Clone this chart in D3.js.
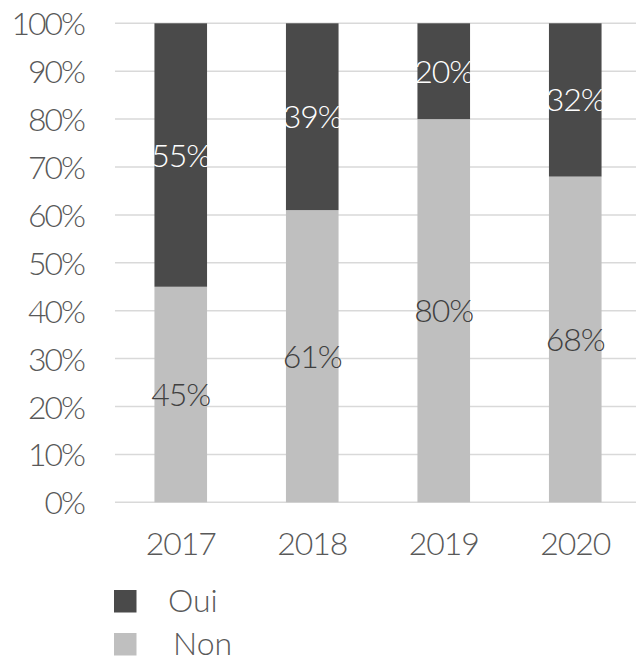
<!DOCTYPE html>
<html>
<head>
<meta charset="utf-8">
<script src="https://cdn.jsdelivr.net/npm/d3@7"></script>
<style>
body { margin: 0; background: #fff; }
text { font-family: Lato, "Open Sans", sans-serif; font-weight: 300; }
</style>
</head>
<body>
<div id="chart"></div>
<script>
var years = ["2017", "2018", "2019", "2020"];
var oui = [55, 39, 20, 32];
var non = [45, 61, 80, 68];
var yTicks = [0, 10, 20, 30, 40, 50, 60, 70, 80, 90, 100];
var seriesNames = ["Oui", "Non"];

var W = 636, H = 661;
var colorOui = "#4a4a4a", colorNon = "#bfbfbf";

var svg = d3.select("#chart").append("svg")
	.attr("width", W)
	.attr("height", H);

var x = d3.scaleBand()
	.domain(years)
	.range([115, 641])
	.paddingInner(0.6)
	.paddingOuter(0.3);

var y = d3.scaleLinear()
	.domain([0, 100])
	.range([502.3, 23.3]);

// grid lines
svg.append("g")
	.selectAll("line")
	.data(yTicks)
	.enter()
	.append("line")
	.attr("x1", 115)
	.attr("x2", W)
	.attr("y1", function(d) { return y(d); })
	.attr("y2", function(d) { return y(d); })
	.attr("stroke", "#d9d9d9")
	.attr("stroke-width", 1.5);

// y axis labels
var yaxis = d3.axisLeft(y).tickValues(yTicks).tickSize(0).tickPadding(0)
	.tickFormat(function(d) { return d + "%"; });
var gy = svg.append("g").attr("transform", "translate(84,0)").call(yaxis);
gy.select(".domain").remove();
gy.selectAll("text")
	.attr("fill", "#595959")
	.style("font-size", "32px")
	.style("font-family", "Lato, sans-serif")
	.style("letter-spacing", "-2px")
	.attr("dy", "0.36em");

// stacked data
var rows = years.map(function(yr, i) { return {year: yr, Non: non[i], Oui: oui[i]}; });
var stack = d3.stack().keys(["Non", "Oui"])(rows);
var colors = {Oui: colorOui, Non: colorNon};
var labelColors = {Oui: "#ffffff", Non: "#404040"};

stack.forEach(function(layer) {
	var g = svg.append("g");
	g.selectAll("rect")
		.data(layer)
		.enter()
		.append("rect")
		.attr("x", function(d) { return x(d.data.year); })
		.attr("width", x.bandwidth())
		.attr("y", function(d) { return y(d[1]); })
		.attr("height", function(d) { return y(d[0]) - y(d[1]); })
		.attr("fill", colors[layer.key]);
	g.selectAll("text")
		.data(layer)
		.enter()
		.append("text")
		.attr("x", function(d) { return x(d.data.year) + x.bandwidth() / 2; })
		.attr("y", function(d) { return y((d[0] + d[1]) / 2); })
		.attr("dy", "0.36em")
		.attr("text-anchor", "middle")
		.attr("fill", labelColors[layer.key])
		.style("font-size", "32px")
		.style("letter-spacing", "-1px")
		.text(function(d) { return (d[1] - d[0]) + "%"; });
});

// x axis labels
var xaxis = d3.axisBottom(x).tickSize(0).tickPadding(0);
var gx = svg.append("g").attr("transform", "translate(0,555)").call(xaxis);
gx.select(".domain").remove();
gx.selectAll("text")
	.attr("fill", "#595959")
	.attr("dy", 0)
	.style("font-size", "32px")
	.style("letter-spacing", "-1px")
	.style("font-family", "Lato, sans-serif");

// legend
var legend = svg.append("g");
var legendY = [590, 633];
var legendTx = [168, 173];
seriesNames.forEach(function(name, i) {
	legend.append("rect")
		.attr("x", 114)
		.attr("y", legendY[i])
		.attr("width", 22.5)
		.attr("height", 22.5)
		.attr("fill", colors[name]);
	legend.append("text")
		.attr("x", legendTx[i])
		.attr("y", legendY[i] + 22)
		.attr("fill", "#595959")
		.style("font-size", "32px")
		.text(name);
});
</script>
</body>
</html>
